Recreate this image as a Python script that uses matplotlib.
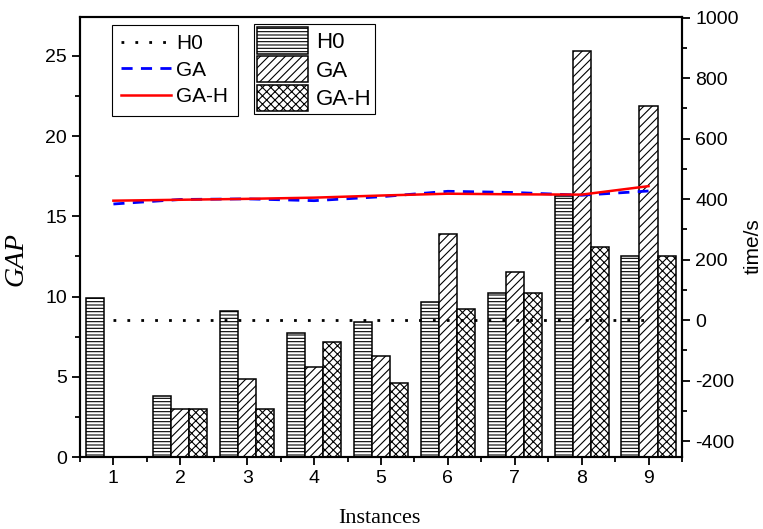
import numpy as np
import matplotlib
matplotlib.use("Agg")
import matplotlib.pyplot as plt
from matplotlib.ticker import MultipleLocator

instances = [1, 2, 3, 4, 5, 6, 7, 8, 9]

# GAP (left axis), bars
gap_h0 = [9.9, 3.8, 9.1, 7.7, 8.4, 9.65, 10.2, 16.3, 12.55]
gap_ga = [0, 3.0, 4.85, 5.6, 6.3, 13.9, 11.55, 25.3, 21.9]
gap_gah = [0, 3.0, 3.0, 7.15, 4.6, 9.25, 10.2, 13.1, 12.55]

# time/s (right axis), lines
time_h0 = [0, 0, 0, 0, 0, 0, 0, 0, 0]
time_ga = [384, 399, 401, 395, 408, 426, 422, 413, 427]
time_gah = [395, 398, 401, 405, 412, 418, 416, 415, 443]

plt.rcParams['font.family'] = ['Liberation Sans', 'DejaVu Sans']
plt.rcParams['hatch.linewidth'] = 0.8
plt.rcParams['axes.unicode_minus'] = False

fig = plt.figure(figsize=(7.63, 5.29), dpi=100)
ax = fig.add_axes([0.1048, 0.1361, 0.789, 0.8318])
ax2 = ax.twinx()

x = np.array(instances)
w = 0.27
b1 = ax.bar(x - w, gap_h0, w, facecolor='white', edgecolor='black', hatch='-----', linewidth=1.1, label='H0')
b2 = ax.bar(x, gap_ga, w, facecolor='white', edgecolor='black', hatch='////', linewidth=1.1, label='GA')
b3 = ax.bar(x + w, gap_gah, w, facecolor='white', edgecolor='black', hatch='xxxx', linewidth=1.1, label='GA-H')

l1, = ax2.plot(x, time_h0, color='black', linestyle=(0, (1, 4)), linewidth=2, label='H0')
l2, = ax2.plot(x, time_ga, color='blue', linestyle=(0, (4, 3)), linewidth=2, label='GA')
l3, = ax2.plot(x, time_gah, color='red', linestyle='-', linewidth=1.8, label='GA-H')

ax.set_xlim(0.5, 9.5)
ax.set_ylim(0, 27.43)

ax.set_xticks(instances)
ax.xaxis.set_minor_locator(MultipleLocator(0.5))
ax.yaxis.set_major_locator(MultipleLocator(5))
ax.yaxis.set_minor_locator(MultipleLocator(2.5))
ax2.set_yticks([-400, -200, 0, 200, 400, 600, 800, 1000])
ax2.yaxis.set_minor_locator(MultipleLocator(100))
ax2.set_ylim(-452, 1002)

ax.tick_params(axis='both', which='major', direction='out', length=6, width=1.3, labelsize=14)
ax.tick_params(axis='both', which='minor', direction='out', length=3.5, width=1.3)
ax2.tick_params(axis='y', which='major', direction='out', length=6, width=1.3, labelsize=14)
ax2.tick_params(axis='y', which='minor', direction='out', length=3.5, width=1.3)

for a in (ax, ax2):
    for s in a.spines.values():
        s.set_linewidth(1.5)

ax.set_ylabel('GAP', fontsize=20, family='Liberation Serif', style='italic')
ax.yaxis.set_label_coords(-0.086, 0.45)
ax.set_xlabel('Instances', fontsize=16, family='Liberation Serif')
ax.xaxis.set_label_coords(0.498, -0.118)
ax2.set_ylabel('time/s', fontsize=15)
ax2.yaxis.set_label_coords(1.102, 0.48)

leg1 = ax2.legend(handles=[l1, l2, l3], loc='upper left', bbox_to_anchor=(0.053, 0.982),
                  borderaxespad=0, fontsize=15, handlelength=2.4, handletextpad=0.25,
                  labelspacing=0.36, borderpad=0.45, fancybox=False, edgecolor='black',
                  framealpha=1)
leg1.get_frame().set_linewidth(0.8)
ax2.add_artist(leg1)
leg2 = ax2.legend(handles=[b1, b2, b3], loc='upper left', bbox_to_anchor=(0.289, 0.984),
                  borderaxespad=0, fontsize=16, handlelength=2.3, handleheight=1.45,
                  handletextpad=0.35, labelspacing=0.1, borderpad=0.15, fancybox=False,
                  edgecolor='black', framealpha=1)
leg2.get_frame().set_linewidth(0.8)

fig.savefig('out.png', dpi=100)
